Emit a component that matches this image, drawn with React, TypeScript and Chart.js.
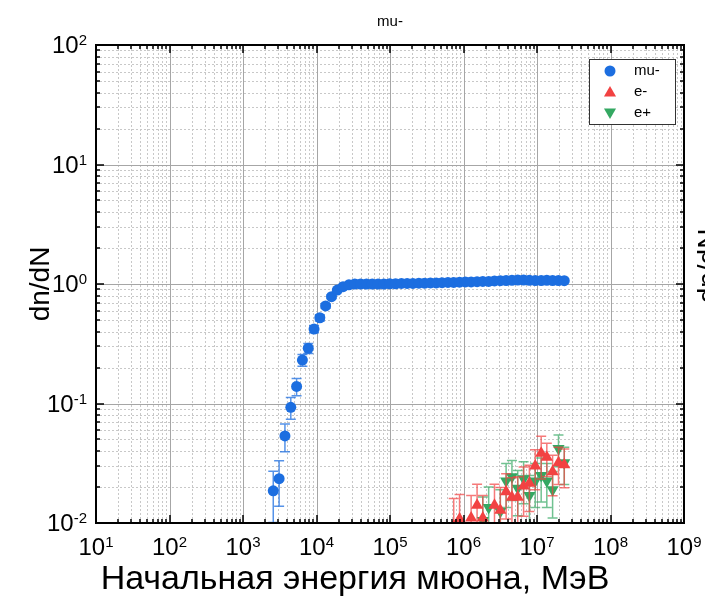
import { useEffect, useRef } from 'react';
import { Chart, registerables } from 'chart.js';

Chart.register(...registerables);

// ---------- data ----------
const muEnergy = [2580, 3100, 3720, 4470, 5360, 6430, 7720, 9260, 11100, 13300, 16000, 19200, 23000, 27600, 33200, 39800, 47800, 57300, 68800, 82600, 99100, 119000, 143000, 171000, 205000, 247000, 296000, 355000, 426000, 511000, 614000, 736000, 884000, 1060000, 1270000, 1530000, 1830000, 2200000, 2640000, 3170000, 3800000, 4560000, 5470000, 6570000, 7880000, 9460000, 11400000, 13600000, 16300000, 19600000, 23500000];
const muValues = [0.0186, 0.0235, 0.0535, 0.093, 0.139, 0.231, 0.29, 0.42, 0.522, 0.655, 0.783, 0.89, 0.95, 0.985, 1.0, 1.0, 1.0, 1.0, 1.0, 1.0, 1.005, 1.005, 1.01, 1.01, 1.01, 1.015, 1.015, 1.02, 1.02, 1.025, 1.03, 1.03, 1.035, 1.04, 1.04, 1.045, 1.05, 1.05, 1.06, 1.065, 1.07, 1.075, 1.08, 1.08, 1.075, 1.07, 1.07, 1.075, 1.07, 1.07, 1.065];
const muErrors = [0.0085, 0.0097, 0.014, 0.019, 0.023, 0.026, 0.028, 0.03, 0.031, 0.029, 0.026, 0.02, 0.013, 0.008, 0, 0, 0, 0, 0, 0, 0, 0, 0, 0, 0, 0, 0, 0, 0, 0, 0, 0, 0, 0, 0, 0, 0, 0, 0, 0, 0, 0, 0, 0, 0, 0, 0, 0, 0, 0, 0];

const eEnergy = [736000, 884000, 1060000, 1270000, 1530000, 1830000, 2200000, 2640000, 3170000, 3800000, 4560000, 5470000, 6570000, 7880000, 9460000, 11400000, 13600000, 16300000, 19600000, 23500000];
const eMinusValues = [0.0095, 0.0108, null, 0.011, 0.0141, 0.011, null, 0.0141, 0.0128, 0.0183, 0.0164, 0.0164, 0.0204, 0.0215, 0.03, 0.0383, 0.0355, 0.0269, 0.032, 0.0307];
const eMinusErrors = [0.0065, 0.0065, null, 0.006, 0.007, 0.006, null, 0.007, 0.007, 0.0075, 0.0075, 0.008, 0.009, 0.009, 0.011, 0.015, 0.011, 0.01, 0.011, 0.011];
const ePlusValues = [null, null, null, null, null, 0.0105, 0.0135, null, 0.0125, 0.0225, 0.0244, 0.0195, 0.0235, 0.017, 0.0225, 0.025, 0.0225, 0.019, 0.042, 0.032];
const ePlusErrors = [null, null, null, null, null, 0.006, 0.0065, null, 0.0065, 0.009, 0.009, 0.008, 0.009, 0.008, 0.009, 0.01, 0.009, 0.008, 0.0125, 0.011];

const seriesLabels = ['mu-', 'e-', 'e+'];
const xTickExponents = ['1', '2', '3', '4', '5', '6', '7', '8', '9'];
const yTickExponents = ['-2', '-1', '0', '1', '2'];
const chartTitle = 'mu-';
const xTitle = 'Начальная энергия мюона, МэВ';
const yTitle = 'dn/dN';

// ---------- style ----------
const FONT = '"Liberation Sans", Arial, Helvetica, sans-serif';
const BLUE = 'rgb(28,110,224)';
const BLUE_ERR = 'rgba(28,110,224,0.75)';
const RED = 'rgb(242,66,66)';
const RED_ERR = 'rgba(242,66,66,0.7)';
const GREEN = 'rgb(52,168,98)';
const GREEN_ERR = 'rgba(52,168,98,0.7)';

function drawPow(ctx: CanvasRenderingContext2D, base: string, exp: string, x: number, baseline: number, align: 'center' | 'right') {
  ctx.font = `24px ${FONT}`;
  const wb = ctx.measureText(base).width;
  ctx.font = `15px ${FONT}`;
  const we = ctx.measureText(exp).width;
  const total = wb + we;
  const x0 = align === 'center' ? x - total / 2 : x - total;
  ctx.textAlign = 'left';
  ctx.textBaseline = 'alphabetic';
  ctx.fillStyle = '#000';
  ctx.font = `24px ${FONT}`;
  ctx.fillText(base, x0, baseline);
  ctx.font = `15px ${FONT}`;
  ctx.fillText(exp, x0 + wb, baseline - 8);
}

function marker(ctx: CanvasRenderingContext2D, style: string, x: number, y: number, r: number, color: string, rot: number) {
  ctx.fillStyle = color;
  ctx.beginPath();
  if (style === 'circle') {
    ctx.arc(x, y, r, 0, Math.PI * 2);
  } else {
    const a0 = (rot * Math.PI) / 180;
    for (let k = 0; k < 3; k++) {
      const a = a0 + (k * 2 * Math.PI) / 3;
      const px = x + Math.sin(a) * r;
      const py = y - Math.cos(a) * r;
      if (k === 0) ctx.moveTo(px, py); else ctx.lineTo(px, py);
    }
    ctx.closePath();
  }
  ctx.fill();
}

const customPlugin = {
  id: 'originStyle',
  beforeDatasetsDraw(chart: any) {
    const { ctx, chartArea: a, scales } = chart;
    const xs = scales.x, ys = scales.y;
    ctx.save();
    ctx.lineWidth = 1;
    // minor grid
    ctx.strokeStyle = '#c8c8c8';
    ctx.setLineDash([2, 2]);
    for (let e = 1; e < 9; e++) {
      for (let m = 2; m <= 9; m++) {
        const px = Math.round(xs.getPixelForValue(m * Math.pow(10, e))) + 0.5;
        ctx.beginPath(); ctx.moveTo(px, a.top); ctx.lineTo(px, a.bottom); ctx.stroke();
      }
    }
    for (let e = -2; e < 2; e++) {
      for (let m = 2; m <= 9; m++) {
        const py = Math.round(ys.getPixelForValue(m * Math.pow(10, e))) + 0.5;
        ctx.beginPath(); ctx.moveTo(a.left, py); ctx.lineTo(a.right, py); ctx.stroke();
      }
    }
    // major grid
    ctx.setLineDash([]);
    ctx.strokeStyle = '#a6a6a6';
    xTickExponents.forEach((ex) => {
      const px = Math.round(xs.getPixelForValue(Math.pow(10, Number(ex)))) + 0.5;
      ctx.beginPath(); ctx.moveTo(px, a.top); ctx.lineTo(px, a.bottom); ctx.stroke();
    });
    yTickExponents.forEach((ex) => {
      const py = Math.round(ys.getPixelForValue(Math.pow(10, Number(ex)))) + 0.5;
      ctx.beginPath(); ctx.moveTo(a.left, py); ctx.lineTo(a.right, py); ctx.stroke();
    });
    ctx.restore();
  },
  beforeDatasetDraw(chart: any, args: any) {
    const { ctx, chartArea: a, scales } = chart;
    const ds = chart.data.datasets[args.index];
    const errs: number[] = ds.errors;
    if (!errs) return;
    ctx.save();
    ctx.beginPath();
    ctx.rect(a.left, a.top, a.right - a.left, a.bottom - a.top);
    ctx.clip();
    ctx.strokeStyle = ds.errorColor;
    ctx.lineWidth = 1.5;
    ds.data.forEach((p: any, i: number) => {
      const err = errs[i];
      if (!err) return;
      const px = scales.x.getPixelForValue(p.x);
      const hi = scales.y.getPixelForValue(p.y + err);
      const lo = scales.y.getPixelForValue(Math.max(p.y - err, 1e-4));
      ctx.beginPath();
      ctx.moveTo(px, hi); ctx.lineTo(px, lo);
      ctx.moveTo(px - 5, hi); ctx.lineTo(px + 5, hi);
      ctx.moveTo(px - 5, lo); ctx.lineTo(px + 5, lo);
      ctx.stroke();
    });
    ctx.restore();
  },
  afterDatasetsDraw(chart: any) {
    const { ctx, chartArea: a, scales } = chart;
    const xs = scales.x, ys = scales.y;
    ctx.save();
    // ticks
    ctx.strokeStyle = '#000';
    ctx.lineWidth = 1.5;
    ctx.setLineDash([]);
    for (let e = 1; e <= 9; e++) {
      for (let m = 1; m <= 9; m++) {
        if (e === 9 && m > 1) break;
        const px = Math.round(xs.getPixelForValue(m * Math.pow(10, e)));
        const len = m === 1 ? 8 : 4;
        ctx.beginPath();
        ctx.moveTo(px, a.bottom); ctx.lineTo(px, a.bottom - len);
        ctx.moveTo(px, a.top); ctx.lineTo(px, a.top + len);
        ctx.stroke();
      }
    }
    for (let e = -2; e <= 2; e++) {
      for (let m = 1; m <= 9; m++) {
        if (e === 2 && m > 1) break;
        const py = Math.round(ys.getPixelForValue(m * Math.pow(10, e)));
        const len = m === 1 ? 8 : 4;
        ctx.beginPath();
        ctx.moveTo(a.left, py); ctx.lineTo(a.left + len, py);
        ctx.moveTo(a.right, py); ctx.lineTo(a.right - len, py);
        ctx.stroke();
      }
    }
    // frame
    ctx.lineWidth = 2;
    ctx.strokeRect(a.left, a.top, a.right - a.left, a.bottom - a.top);

    // tick labels
    xTickExponents.forEach((ex) => {
      const px = xs.getPixelForValue(Math.pow(10, Number(ex)));
      drawPow(ctx, '10', ex, px, a.bottom + 32, 'center');
    });
    yTickExponents.forEach((ex) => {
      const py = ys.getPixelForValue(Math.pow(10, Number(ex)));
      drawPow(ctx, '10', ex, a.left - 9, py + 8, 'right');
    });

    // titles
    ctx.fillStyle = '#000';
    ctx.textAlign = 'center';
    ctx.textBaseline = 'middle';
    ctx.font = `15px ${FONT}`;
    ctx.fillText(chartTitle, (a.left + a.right) / 2, 22);
    ctx.font = `34px ${FONT}`;
    ctx.fillText(xTitle, 355, 580);
    ctx.font = `28px ${FONT}`;
    ctx.save();
    ctx.translate(41, (a.top + a.bottom) / 2);
    ctx.rotate(-Math.PI / 2);
    ctx.fillText(yTitle, 0, 0);
    ctx.restore();
    // neighbouring panel's axis title, cut by the edge
    ctx.save();
    ctx.translate(709, 266);
    ctx.rotate(-Math.PI / 2);
    ctx.fillText(yTitle, 0, 0);
    ctx.restore();

    // legend
    const lx = 589, ly = 59, lw = 86, lh = 65;
    ctx.fillStyle = '#fff';
    ctx.fillRect(lx, ly, lw, lh);
    ctx.strokeStyle = '#333';
    ctx.lineWidth = 1;
    ctx.strokeRect(lx + 0.5, ly + 0.5, lw, lh);
    const styles = [
      { s: 'circle', c: BLUE, r: 5.5, rot: 0 },
      { s: 'triangle', c: RED, r: 7, rot: 0 },
      { s: 'triangle', c: GREEN, r: 7, rot: 180 },
    ];
    seriesLabels.forEach((lab, i) => {
      const yy = 71 + i * 21;
      const st = styles[i];
      marker(ctx, st.s, 610, yy + (st.s === 'triangle' ? (st.rot ? -1 : 1) : 0), st.r, st.c, st.rot);
      ctx.fillStyle = '#000';
      ctx.font = `15px ${FONT}`;
      ctx.textAlign = 'left';
      ctx.textBaseline = 'middle';
      ctx.fillText(lab, 634, yy);
    });
    ctx.restore();
  },
};

export default function App() {
  const ref = useRef<HTMLCanvasElement | null>(null);
  useEffect(() => {
    if (!ref.current) return;
    const toPts = (xs: number[], ys: (number | null)[]) =>
      xs.map((x, i) => ({ x, y: ys[i] })).filter((p) => p.y !== null);
    const toErr = (ys: (number | null)[], es: (number | null)[]) =>
      es.filter((_, i) => ys[i] !== null);
    const chart = new Chart(ref.current, {
      type: 'scatter',
      data: {
        datasets: [
          {
            label: seriesLabels[0],
            data: toPts(muEnergy, muValues),
            errors: muErrors,
            errorColor: BLUE_ERR,
            pointStyle: 'circle',
            pointRadius: 5.5,
            backgroundColor: BLUE,
            borderColor: BLUE,
            borderWidth: 0,
            clip: 0,
          } as any,
          {
            label: seriesLabels[1],
            data: toPts(eEnergy, eMinusValues),
            errors: toErr(eMinusValues, eMinusErrors),
            errorColor: RED_ERR,
            pointStyle: 'triangle',
            pointRadius: 7,
            backgroundColor: RED,
            borderColor: RED,
            borderWidth: 0,
            clip: 0,
          } as any,
          {
            label: seriesLabels[2],
            data: toPts(eEnergy, ePlusValues),
            errors: toErr(ePlusValues, ePlusErrors),
            errorColor: GREEN_ERR,
            pointStyle: 'triangle',
            rotation: 180,
            pointRadius: 7,
            backgroundColor: GREEN,
            borderColor: GREEN,
            borderWidth: 0,
            clip: 0,
          } as any,
        ],
      },
      options: {
        animation: false,
        responsive: false,
        layout: { padding: { left: 96, right: 21, top: 45, bottom: 77 } },
        plugins: {
          legend: { display: false },
          title: { display: false },
          tooltip: { enabled: false },
        },
        scales: {
          x: { type: 'logarithmic', min: 10, max: 1e9, display: false },
          y: { type: 'logarithmic', min: 0.01, max: 100, display: false },
        },
      },
      plugins: [customPlugin],
    });
    return () => chart.destroy();
  }, []);
  return (
    <div style={{ position: 'fixed', left: 0, top: 0, width: 705, height: 600, background: '#fff' }}>
      <canvas ref={ref} width={705} height={600} style={{ display: 'block' }} />
    </div>
  );
}
